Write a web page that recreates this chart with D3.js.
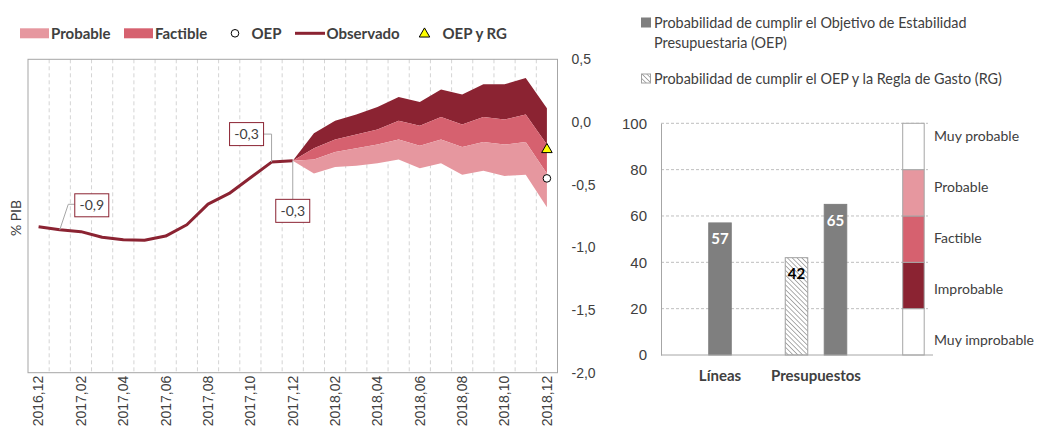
<!DOCTYPE html>
<html>
<head>
<meta charset="utf-8">
<script src="https://cdn.jsdelivr.net/npm/d3@7"></script>
<style>
  body { margin: 0; background: #fff; }
  svg { display: block; font-family: 'Gill Sans', 'Gill Sans MT', Lato, sans-serif; }
</style>
</head>
<body>
<div class="viz"></div>
<script>
// ---- data: left fan chart (% PIB)
const months = ['2016,12', '2017,01', '2017,02', '2017,03', '2017,04', '2017,05', '2017,06', '2017,07',
  '2017,08', '2017,09', '2017,10', '2017,11', '2017,12', '2018,01', '2018,02', '2018,03', '2018,04',
  '2018,05', '2018,06', '2018,07', '2018,08', '2018,09', '2018,10', '2018,11', '2018,12']
const observed = [-0.835, -0.86, -0.875, -0.92, -0.94, -0.943, -0.91, -0.82, -0.655, -0.57, -0.445, -0.32, -0.31]
const fanMonths = months.slice(12)
const fanLow = [-0.31, -0.41, -0.36, -0.35, -0.33, -0.30, -0.37, -0.33, -0.42, -0.39, -0.43, -0.42, -0.68]
const fanProbable = [-0.31, -0.30, -0.24, -0.21, -0.18, -0.14, -0.19, -0.14, -0.20, -0.16, -0.18, -0.16, -0.41]
const fanFactible = [-0.31, -0.21, -0.14, -0.10, -0.06, 0.01, -0.03, 0.04, -0.02, 0.04, 0.02, 0.06, -0.18]
const fanHigh = [-0.31, -0.09, 0.01, 0.06, 0.12, 0.20, 0.16, 0.26, 0.22, 0.30, 0.30, 0.35, 0.11]
const oep = { month: '2018,12', value: -0.45 }
const oepRg = { month: '2018,12', value: -0.22 }
const labelledPoints = [1, 11, 12]
const yTicks = [0.5, 0, -0.5, -1, -1.5, -2]

// ---- data: right bar chart (probabilities)
const categories = ['Líneas', 'Presupuestos']
const seriesNames = ['RG', 'OEP']
const probOEP = [57, 65]
const probRG = [null, 42]
const scaleBounds = [0, 20, 40, 60, 80, 100]
const scaleNames = ['Muy improbable', 'Improbable', 'Factible', 'Probable', 'Muy probable']

const dark = '#8b2332', mid = '#d6616f', light = '#e6979f'
const textCol = '#404040', borderCol = '#a6a6a6'

const locale = d3.formatLocale({ decimal: ',', thousands: '.', grouping: [3], currency: ['', ''], minus: '-' })
const fmt = locale.format('.1f')

const svg = d3.select('.viz').append('svg')
  .attr('width', 1037)
  .attr('height', 433)

// ================= left chart
const x = d3.scaleBand().domain(months).range([28, 557.5])
const cx = m => x(m) + x.bandwidth() / 2
const y = d3.scaleLinear().domain([-2, 0.5]).range([372.7, 59.3])

// dashed vertical gridlines at category boundaries
svg.append('g').selectAll('line')
  .data(months.slice(1)).enter().append('line')
  .attr('x1', d => x(d)).attr('x2', d => x(d))
  .attr('y1', y(0.5)).attr('y2', y(-2))
  .attr('stroke', '#d4d4d4')
  .attr('stroke-dasharray', '4,3')

// fan bands
const fan = fanMonths.map((m, i) => ({ m, low: fanLow[i], prob: fanProbable[i], fact: fanFactible[i], high: fanHigh[i] }))
const band = (lo, hi) => d3.area().x(d => cx(d.m)).y0(d => y(d[lo])).y1(d => y(d[hi]))
svg.append('path').datum(fan).attr('d', band('fact', 'high')).attr('fill', dark)
svg.append('path').datum(fan).attr('d', band('prob', 'fact')).attr('fill', mid)
svg.append('path').datum(fan).attr('d', band('low', 'prob')).attr('fill', light)

// observed line
svg.append('path')
  .datum(observed)
  .attr('d', d3.line().x((d, i) => cx(months[i])).y(d => y(d)))
  .attr('fill', 'none')
  .attr('stroke', dark)
  .attr('stroke-width', 3)
  .attr('stroke-linejoin', 'round')

// plot border
svg.append('rect')
  .attr('x', 28).attr('y', y(0.5))
  .attr('width', 529.5).attr('height', y(-2) - y(0.5))
  .attr('fill', 'none').attr('stroke', borderCol)

// targets
const triangle = d3.symbol().type(d3.symbolTriangle).size(48)
svg.append('path')
  .attr('d', triangle())
  .attr('transform', `translate(${cx(oepRg.month)},${y(oepRg.value)})`)
  .attr('fill', '#ffff00').attr('stroke', '#000').attr('stroke-width', 1)
svg.append('circle')
  .attr('cx', cx(oep.month)).attr('cy', y(oep.value)).attr('r', 3.8)
  .attr('fill', '#fff').attr('stroke', '#000').attr('stroke-width', 1)

// data labels with leader lines
const labelOffsets = { 1: [32, -24.5], 11: [-25, -28], 12: [0, 50] }
const labels = svg.append('g').selectAll('g')
  .data(labelledPoints).enter().append('g')
labels.append('path')
  .attr('d', i => {
    const px = cx(months[i]), py = y(observed[i])
    const [dx, dy] = labelOffsets[i]
    const bx = px + dx, by = py + dy
    if (dx > 0) return `M${px},${py}L${bx - 23.5},${by - 1}L${bx - 17},${by - 1}`
    if (dx < 0) return `M${px},${py}L${px},${by}L${bx + 16.5},${by}`
    return `M${px},${py}L${px},${by - 11.5}`
  })
  .attr('fill', 'none').attr('stroke', borderCol)
labels.append('rect')
  .attr('x', i => cx(months[i]) + labelOffsets[i][0] - 17)
  .attr('y', i => y(observed[i]) + labelOffsets[i][1] - 11.5)
  .attr('width', 34).attr('height', 23)
  .attr('fill', '#fff').attr('stroke', dark)
labels.append('text')
  .attr('x', i => cx(months[i]) + labelOffsets[i][0])
  .attr('y', i => y(observed[i]) + labelOffsets[i][1])
  .attr('dy', '0.35em')
  .attr('text-anchor', 'middle')
  .attr('font-size', 14).attr('fill', textCol)
  .text(i => fmt(observed[i]))

// right value axis
const yAxis = svg.append('g')
  .attr('transform', 'translate(557.5,0)')
  .call(d3.axisRight(y).tickValues(yTicks).tickFormat(fmt).tickSize(0).tickPadding(14))
yAxis.select('.domain').remove()
yAxis.selectAll('text').attr('font-size', 14).attr('fill', textCol).attr('font-family', null)

// month axis
const xAxis = svg.append('g')
  .attr('transform', `translate(0,${y(-2)})`)
  .call(d3.axisBottom(x).tickValues(months.filter((d, i) => i % 2 === 0)).tickSize(0))
xAxis.select('.domain').remove()
xAxis.selectAll('text')
  .attr('transform', 'rotate(-90)')
  .attr('x', -3).attr('y', 0).attr('dy', '0.35em')
  .style('text-anchor', 'end')
  .attr('font-size', 14).attr('fill', textCol).attr('font-family', null)

svg.append('text')
  .attr('transform', `translate(21,${(y(0.5) + y(-2)) / 2 + 2}) rotate(-90)`)
  .attr('text-anchor', 'middle')
  .attr('font-size', 14).attr('fill', textCol)
  .text('% PIB')

// legend of fan chart
const leg = svg.append('g').attr('font-size', 15).attr('font-weight', 'bold').attr('fill', textCol)
leg.append('rect').attr('x', 20).attr('y', 28.3).attr('width', 29).attr('height', 10).attr('fill', light)
leg.append('text').attr('x', 51).attr('y', 38.5).text('Probable')
leg.append('rect').attr('x', 124).attr('y', 28.3).attr('width', 29).attr('height', 10).attr('fill', mid)
leg.append('text').attr('x', 155).attr('y', 38.5).text('Factible')
leg.append('circle').attr('cx', 235).attr('cy', 33.3).attr('r', 3.8).attr('fill', '#fff').attr('stroke', '#000')
leg.append('text').attr('x', 251.5).attr('y', 38.5).text('OEP')
leg.append('line').attr('x1', 295).attr('x2', 325).attr('y1', 33.3).attr('y2', 33.3).attr('stroke', dark).attr('stroke-width', 3)
leg.append('text').attr('x', 326.5).attr('y', 38.5).text('Observado')
leg.append('path').attr('d', triangle()).attr('transform', 'translate(424.5,34)')
  .attr('fill', '#ffff00').attr('stroke', '#000')
leg.append('text').attr('x', 442.5).attr('y', 38.5).text('OEP y RG')

// ================= right chart
const defs = svg.append('defs')
const hatch = defs.append('pattern')
  .attr('id', 'hatch').attr('patternUnits', 'userSpaceOnUse')
  .attr('width', 3.4).attr('height', 3.4)
  .attr('patternTransform', 'rotate(-45)')
hatch.append('rect').attr('width', 3.4).attr('height', 3.4).attr('fill', '#fff')
hatch.append('line').attr('x1', 0).attr('x2', 0).attr('y1', 0).attr('y2', 3.4)
  .attr('stroke', '#9a9a9a').attr('stroke-width', 1.6)

const yr = d3.scaleLinear().domain([0, 100]).range([355, 123.3])
const x0 = d3.scaleBand().domain(categories).range([672, 864])
const x1 = d3.scaleBand().domain(seriesNames).range([0, 61.5]).paddingInner(0.423)

// horizontal gridlines
svg.append('g').selectAll('line')
  .data(scaleBounds.slice(1)).enter().append('line')
  .attr('x1', 661).attr('x2', 928)
  .attr('y1', d => yr(d)).attr('y2', d => yr(d))
  .attr('stroke', '#bfbfbf').attr('stroke-dasharray', '3,2')

// bars
const bars = categories.map((c, i) => {
  const items = [{ s: 'RG', v: probRG[i] }, { s: 'OEP', v: probOEP[i] }].filter(d => d.v !== null)
  return items.map(d => {
    const bw = x1.bandwidth()
    const left = items.length === 1
      ? x0(c) + x0.bandwidth() / 2 - bw / 2
      : x0(c) + (x0.bandwidth() - x1.range()[1]) / 2 + x1(d.s)
    return { ...d, c, left, bw }
  })
}).flat()

svg.append('g').selectAll('rect')
  .data(bars).enter().append('rect')
  .attr('x', d => d.left).attr('width', d => d.bw)
  .attr('y', d => yr(d.v)).attr('height', d => yr(0) - yr(d.v))
  .attr('fill', d => d.s === 'OEP' ? '#7f7f7f' : 'url(#hatch)')
  .attr('stroke', d => d.s === 'OEP' ? '#7f7f7f' : '#a0a0a0')
  .attr('stroke-width', 1)

svg.append('g').selectAll('text')
  .data(bars).enter().append('text')
  .attr('x', d => d.left + d.bw / 2)
  .attr('y', d => yr(d.v) + 16)
  .attr('dy', '0.35em')
  .attr('text-anchor', 'middle')
  .attr('font-size', 15).attr('font-weight', 'bold')
  .attr('fill', d => d.s === 'OEP' ? '#fff' : '#000')
  .text(d => d.v)

// probability scale column
const scaleBands = scaleNames.map((n, i) => ({ n, lo: scaleBounds[i], hi: scaleBounds[i + 1] }))
const scaleFill = { 'Improbable': dark, 'Factible': mid, 'Probable': light }
svg.append('g').selectAll('rect')
  .data(scaleBands).enter().append('rect')
  .attr('x', 902.7).attr('width', 21.5)
  .attr('y', d => yr(d.hi)).attr('height', d => yr(d.lo) - yr(d.hi))
  .attr('fill', d => scaleFill[d.n] || '#fff')
  .attr('stroke', borderCol)

const labelY = d3.scalePoint().domain(scaleNames).range([340, 136])
svg.append('g').selectAll('text')
  .data(scaleNames).enter().append('text')
  .attr('x', 934).attr('y', d => labelY(d)).attr('dy', '0.35em')
  .attr('font-size', 14).attr('fill', textCol)
  .text(d => d)

// axes
const yrAxis = svg.append('g')
  .attr('transform', 'translate(661,0)')
  .call(d3.axisLeft(yr).tickValues(scaleBounds).tickSize(0).tickPadding(14))
yrAxis.select('.domain').attr('stroke', borderCol)
yrAxis.selectAll('text').attr('font-size', 15).attr('fill', textCol).attr('font-family', null)
svg.append('line')
  .attr('x1', 661).attr('x2', 933).attr('y1', yr(0)).attr('y2', yr(0))
  .attr('stroke', borderCol)

svg.append('g').selectAll('text')
  .data(categories).enter().append('text')
  .attr('x', d => x0(d) + x0.bandwidth() / 2)
  .attr('y', 376).attr('dy', '0.35em')
  .attr('text-anchor', 'middle')
  .attr('font-size', 15).attr('font-weight', 'bold').attr('fill', textCol)
  .text(d => d)

// legend of bar chart
const leg2 = svg.append('g').attr('font-size', 14.4).attr('fill', textCol)
leg2.append('rect').attr('x', 641).attr('y', 17.5).attr('width', 10).attr('height', 10).attr('fill', '#7f7f7f')
leg2.append('text').attr('x', 654).attr('y', 27.5).text('Probabilidad de cumplir el Objetivo de Estabilidad')
leg2.append('text').attr('x', 654).attr('y', 47.5).text('Presupuestaria (OEP)')
leg2.append('rect').attr('x', 641.5).attr('y', 74).attr('width', 9).attr('height', 9)
  .attr('fill', 'url(#hatch)').attr('stroke', '#a0a0a0')
leg2.append('text').attr('x', 654).attr('y', 83.5).text('Probabilidad de cumplir el OEP y la Regla de Gasto (RG)')
</script>
</body>
</html>
